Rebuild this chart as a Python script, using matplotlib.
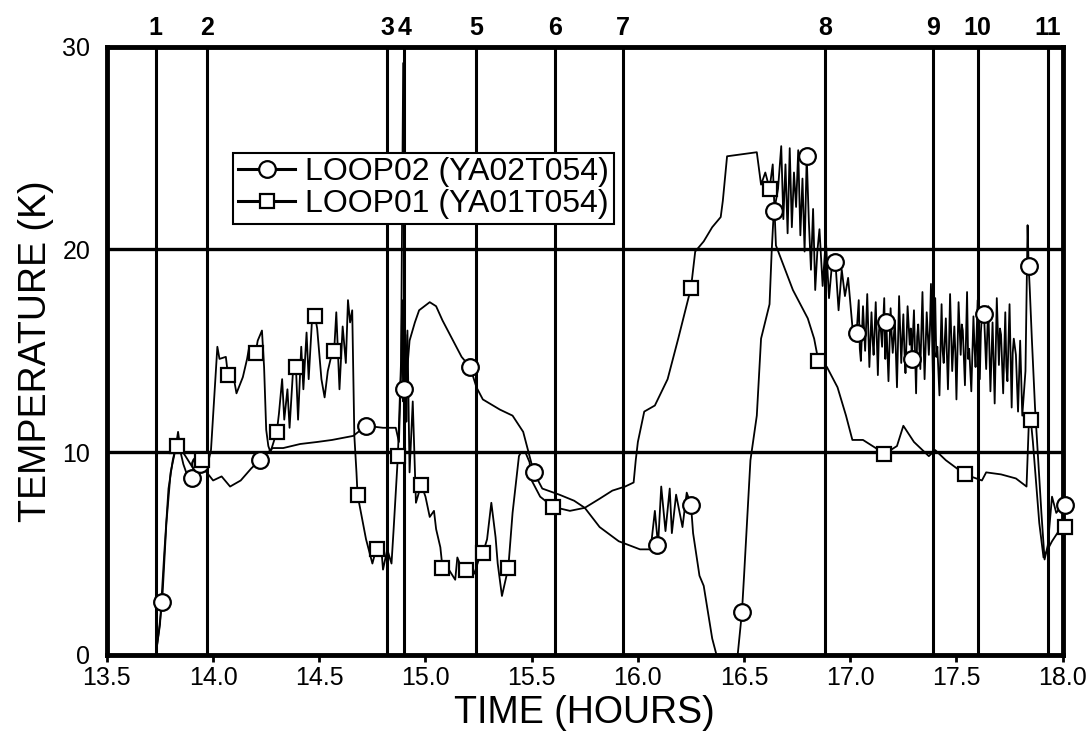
import matplotlib
matplotlib.use("Agg")
import matplotlib.pyplot as plt
from matplotlib.lines import Line2D
from matplotlib.transforms import blended_transform_factory

plt.rcParams['font.family'] = ['Liberation Sans', 'DejaVu Sans']

# event markers along the top
event_labels = ["1", "2", "3", "4", "5", "6", "7", "8", "9", "10", "11"]
event_times = [13.73, 13.97, 14.82, 14.90, 15.24, 15.61, 15.93, 16.88, 17.39, 17.60, 17.93]

# LOOP02 (YA02T054)
loop02_t = [13.73, 13.745, 13.76, 13.78, 13.80, 13.82, 13.84, 13.86, 13.88, 13.90, 13.92, 13.94, 13.97,
            14.00, 14.04, 14.08, 14.13, 14.18, 14.22, 14.28, 14.33, 14.41, 14.49, 14.56, 14.66, 14.72,
            14.80, 14.86, 14.875, 14.885, 14.89, 14.895, 14.90, 14.905, 14.91, 14.915, 14.925, 14.95,
            14.97, 15.02, 15.05, 15.08, 15.13, 15.17, 15.21, 15.24, 15.27, 15.35, 15.41, 15.46, 15.48,
            15.51, 15.55, 15.63, 15.70, 15.75, 15.82, 15.91, 16.01, 16.06, 16.08, 16.095, 16.11, 16.13,
            16.15, 16.16, 16.18, 16.21, 16.23, 16.25, 16.26, 16.29, 16.31, 16.35, 16.37, 16.47, 16.49,
            16.50, 16.52, 16.53, 16.56, 16.58, 16.62, 16.63, 16.64, 16.65, 16.66, 16.675, 16.685, 16.695,
            16.705, 16.715, 16.725, 16.735, 16.745, 16.755, 16.765, 16.775, 16.785, 16.795, 16.805,
            16.815, 16.825, 16.835, 16.845, 16.855, 16.87, 16.885, 16.90, 16.915, 16.93, 16.945, 16.96,
            16.975, 16.99, 17.01, 17.03,
            17.04, 17.045, 17.05, 17.06, 17.07, 17.075, 17.08, 17.09, 17.10, 17.105, 17.11, 17.12, 17.13,
            17.135, 17.14, 17.15, 17.16, 17.165, 17.17, 17.18, 17.19, 17.195, 17.20, 17.21, 17.22, 17.225,
            17.23, 17.24, 17.25, 17.255, 17.26, 17.27, 17.28, 17.285, 17.29, 17.30, 17.31, 17.315, 17.32,
            17.33, 17.34, 17.345, 17.35, 17.36, 17.37, 17.375, 17.38, 17.39, 17.40, 17.405, 17.41, 17.42,
            17.43, 17.435, 17.44, 17.45, 17.46, 17.465, 17.47, 17.48, 17.49, 17.495, 17.50, 17.51, 17.52,
            17.525, 17.53, 17.54, 17.55, 17.555, 17.56, 17.57, 17.58, 17.585, 17.59, 17.60, 17.61, 17.615,
            17.62, 17.63, 17.64, 17.645, 17.65, 17.66, 17.67, 17.675, 17.68, 17.69, 17.70, 17.705, 17.71,
            17.72, 17.73, 17.735, 17.74, 17.75, 17.76, 17.765, 17.77, 17.78, 17.79, 17.80, 17.81,
            17.825, 17.835, 17.84, 17.845, 17.855, 17.87, 17.90, 17.915, 17.93, 17.95, 17.97, 18.00]
loop02_T = [0.0, 1.2, 2.6, 6.5, 9.0, 10.0, 10.3, 9.4, 8.8, 8.7, 8.9, 9.4, 9.0,
            8.6, 8.8, 8.3, 8.6, 9.2, 9.6, 10.2, 10.2, 10.4, 10.5, 10.6, 10.8, 11.3,
            11.2, 11.2, 10.5, 14.0, 17.5, 12.5, 13.1, 15.8, 11.5, 14.2, 15.5, 16.4,
            17.0, 17.4, 17.2, 16.5, 15.5, 14.7, 14.2, 13.2, 12.6, 12.1, 11.8, 11.0, 10.2,
            9.0, 8.2, 7.9, 7.6, 7.25, 6.3, 5.6, 5.2, 5.2, 7.1, 5.4, 8.3, 6.1,
            8.2, 6.0, 7.9, 6.3, 8.0, 7.4, 6.0, 3.9, 3.4, 0.8, 0.0, 0.0, 2.1,
            3.9, 7.7, 9.6, 11.8, 15.6, 17.3, 19.9, 21.9, 22.4, 23.0, 25.1, 21.5, 24.2,
            20.8, 25.0, 21.1, 23.8, 22.1, 24.9, 20.7, 23.5, 19.9, 24.6, 21.4,
            19.0, 22.0, 18.0, 19.9, 21.0, 18.2, 20.5, 17.6, 19.4, 19.4, 17.0, 19.0,
            17.7, 18.6, 16.2, 15.9,
            17.5, 15.1, 14.5, 17.2, 15.0, 16.3, 17.8, 14.2, 16.9, 15.6, 14.8, 17.4, 13.8,
            15.9, 16.6, 15.2, 17.6, 14.6, 16.4, 13.5, 17.1, 15.8, 14.9, 16.5, 13.2, 15.4,
            17.7, 14.4, 16.8, 15.0, 13.9, 17.2, 15.3, 16.1, 14.6, 17.0, 12.9, 15.7, 16.3,
            14.1, 17.9, 15.5, 13.6, 16.9, 14.8, 16.0, 18.3, 13.4, 17.6, 14.7, 15.2, 12.8,
            17.3, 15.0, 14.4, 16.6, 13.1, 15.2, 17.8, 14.0, 16.2, 14.9, 12.6, 17.4, 14.8,
            16.3, 16.0, 13.3, 17.9, 14.6, 15.1, 13.0, 16.7, 15.2, 14.2, 17.5, 13.6, 15.9,
            16.8, 16.8, 14.1, 15.8, 17.2, 13.0, 16.4, 14.5, 12.4, 17.6, 14.3, 16.1, 15.8,
            12.9, 16.9, 14.2, 13.5, 17.3, 12.2, 14.9, 15.6, 14.8, 12.0, 15.5, 11.8,
            14.0, 21.2, 19.2, 18.1, 15.6, 12.2, 7.0, 4.7, 5.4, 7.8, 7.0, 7.4]
loop02_mark_t = [13.76, 13.90, 13.94, 14.22, 14.72, 14.90, 15.21, 15.51, 16.09, 16.25, 16.49,
                 16.64, 16.795, 16.93, 17.03, 17.17, 17.29, 17.63, 17.84, 18.01]
loop02_mark_T = [2.6, 8.7, 9.4, 9.6, 11.3, 13.1, 14.2, 9.0, 5.4, 7.4, 2.1,
                 21.9, 24.6, 19.4, 15.9, 16.4, 14.6, 16.8, 19.2, 7.4]

# LOOP01 (YA01T054)
loop01_t = [13.73, 13.75, 13.77, 13.79, 13.81, 13.825, 13.835, 13.845, 13.87, 13.90, 13.93, 13.95,
            13.97, 13.99, 14.02, 14.03, 14.06, 14.07, 14.09, 14.11, 14.14, 14.16, 14.17, 14.20, 14.21,
            14.23, 14.24, 14.25, 14.26, 14.27, 14.30, 14.31, 14.325, 14.335, 14.35, 14.36, 14.375, 14.39,
            14.40, 14.415, 14.425, 14.44, 14.45, 14.465, 14.48, 14.49, 14.51, 14.525, 14.54, 14.56,
            14.57, 14.58, 14.595, 14.61, 14.625, 14.635, 14.645, 14.655, 14.665, 14.675,
            14.68, 14.70, 14.72, 14.75, 14.77, 14.79, 14.80, 14.82, 14.84, 14.85, 14.87,
            14.885, 14.895, 14.905, 14.915, 14.925, 14.94, 14.955, 14.98, 15.00, 15.02, 15.04, 15.05,
            15.07, 15.08, 15.11, 15.14, 15.15, 15.18, 15.19, 15.21, 15.23, 15.26, 15.27, 15.29, 15.31,
            15.33, 15.34, 15.36, 15.39, 15.41, 15.44, 15.45, 15.47, 15.49, 15.50, 15.54, 15.60, 15.68,
            15.75, 15.82, 15.88, 15.94, 15.98, 15.99, 16.00, 16.03, 16.08, 16.14, 16.19, 16.25, 16.27,
            16.31, 16.35, 16.39, 16.40, 16.42, 16.56, 16.58, 16.60, 16.62, 16.635, 16.65, 16.73, 16.80,
            16.83, 16.85, 16.89, 16.94, 16.98, 17.01, 17.06, 17.12, 17.16, 17.22, 17.25, 17.30, 17.37,
            17.40, 17.45, 17.54, 17.62, 17.64, 17.71, 17.78, 17.83, 17.84, 17.85, 17.86, 17.89, 17.91,
            17.95, 18.00]
loop01_T = [0.0, 1.5, 5.0, 8.2, 9.6, 10.3, 11.0, 10.2, 9.8, 9.3, 9.0, 9.6,
            9.2, 10.1, 15.2, 14.6, 14.7, 13.8, 14.1, 12.9, 13.7, 14.6, 15.2, 14.9, 15.5,
            16.0, 14.2, 11.1, 10.3, 10.0, 11.0, 11.9, 13.6, 11.6, 13.1, 11.2, 13.8, 14.2,
            11.6, 15.2, 13.1, 15.9, 13.6, 16.4, 16.7, 16.1, 13.6, 12.7, 14.0, 14.9,
            15.0, 16.9, 13.1, 16.2, 14.4, 17.5, 16.4, 17.0, 10.8, 9.0,
            7.9, 6.8, 5.7, 4.5, 5.3, 5.5, 4.2, 5.2, 4.5, 6.2, 9.8,
            14.5, 29.2, 13.0, 16.0, 9.0, 12.5, 7.5, 8.4, 7.8, 6.8, 7.1, 6.2,
            5.3, 4.3, 4.2, 3.7, 4.8, 4.0, 4.2, 4.5, 4.0, 5.0, 5.0, 5.7, 7.5,
            5.8, 4.5, 2.9, 4.3, 7.0, 9.8, 10.0, 10.0, 9.5, 8.6, 7.8, 7.3, 7.1,
            7.25, 7.7, 8.1, 8.3, 8.5, 9.6, 10.5, 12.0, 12.3, 13.6, 15.6, 18.1, 19.9,
            20.4, 21.1, 21.6, 22.4, 24.6, 24.8, 23.2, 23.8, 23.0, 24.2, 20.2, 18.0, 16.6,
            15.6, 14.5, 14.2, 13.2, 11.8, 10.6, 10.6, 10.2, 9.9, 10.3, 11.3, 10.5, 9.8,
            10.1, 9.6, 8.9, 8.6, 9.0, 8.9, 8.7, 8.3, 11.2, 11.6, 10.5, 6.5, 4.8,
            5.6, 6.4]
loop01_mark_t = [13.83, 13.95, 14.07, 14.20, 14.30, 14.39, 14.48, 14.57, 14.68, 14.77, 14.87, 14.98,
                 15.08, 15.19, 15.27, 15.39, 15.60, 16.25, 16.62, 16.85, 17.16, 17.54, 17.85, 18.01]
loop01_mark_T = [10.3, 9.6, 13.8, 14.9, 11.0, 14.2, 16.7, 15.0, 7.9, 5.2, 9.8, 8.4,
                 4.3, 4.2, 5.0, 4.3, 7.3, 18.1, 23.0, 14.5, 9.9, 8.9, 11.6, 6.3]

fig = plt.figure(figsize=(10.91, 7.44), dpi=100)
ax = fig.add_axes([0.098, 0.12, 0.876, 0.817])

# event lines and their numbers
top = blended_transform_factory(ax.transData, ax.transAxes)
for lab, t in zip(event_labels, event_times):
    ax.axvline(t, color='black', lw=2.2, zorder=1)
    ax.text(t, 1.012, lab, transform=top, ha='center', va='bottom',
            fontsize=18, fontweight='bold')

for yv in [10, 20]:
    ax.axhline(yv, color='black', lw=2.4, zorder=1)

ax.plot(loop02_t, loop02_T, color='black', lw=1.3, zorder=3)
ax.plot(loop01_t, loop01_T, color='black', lw=1.3, zorder=3)
ax.plot(loop02_mark_t, loop02_mark_T, ls='none', marker='o', ms=12, mfc='white',
        mec='black', mew=1.6, zorder=4, clip_on=False)
ax.plot(loop01_mark_t, loop01_mark_T, ls='none', marker='s', ms=10, mfc='white',
        mec='black', mew=1.6, zorder=4, clip_on=False)

ax.set_xlim(13.5, 18.0)
ax.set_ylim(0, 30)
ax.set_xticks([13.5, 14.0, 14.5, 15.0, 15.5, 16.0, 16.5, 17.0, 17.5, 18.0])
ax.set_xticklabels(["13.5", "14.0", "14.5", "15.0", "15.5", "16.0", "16.5", "17.0", "17.5", "18.0"])
ax.set_yticks([0, 10, 20, 30])
ax.set_yticklabels(["0", "10", "20", "30"])
ax.tick_params(axis='x', direction='out', length=5, width=2, labelsize=18, pad=3)
ax.tick_params(axis='y', length=0, labelsize=18, pad=12)
for sp in ax.spines.values():
    sp.set_linewidth(3.5)

ax.set_xlabel("TIME (HOURS)", fontsize=27, labelpad=4)
ax.set_ylabel("TEMPERATURE (K)", fontsize=27, labelpad=6)

handles = [Line2D([], [], color='black', lw=2.2, marker='o', ms=12, mfc='white', mec='black', mew=1.6),
           Line2D([], [], color='black', lw=2.2, marker='s', ms=10, mfc='white', mec='black', mew=1.6)]
leg = ax.legend(handles, ["LOOP02 (YA02T054)", "LOOP01 (YA01T054)"], loc='upper left',
                bbox_to_anchor=(0.132, 0.826), fontsize=23, frameon=True, fancybox=False,
                framealpha=1, edgecolor='black', borderpad=0.15, handlelength=1.8,
                handletextpad=0.3, labelspacing=0.05, borderaxespad=0)
leg.get_frame().set_linewidth(1.5)
leg.set_zorder(10)

fig.savefig("out.png", dpi=100)
